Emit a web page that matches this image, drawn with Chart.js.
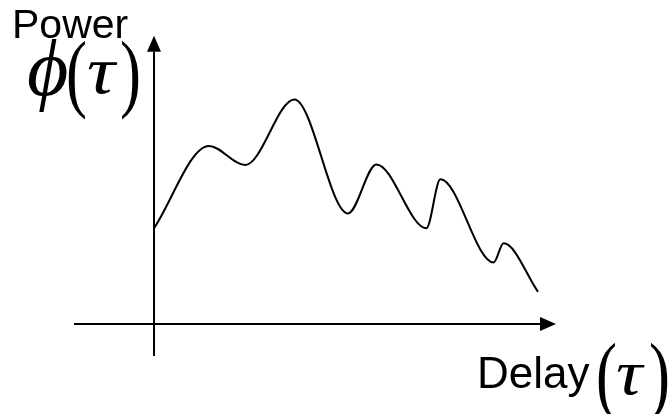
<!DOCTYPE html>
<html>
<head>
<meta charset="utf-8">
<script src="https://cdn.jsdelivr.net/npm/chart.js@4/dist/chart.umd.min.js"></script>
<style>
    body { margin: 0; background: #fff; }
    #wrap { width: 668px; height: 414px; }
</style>
</head>
<body>
<div id="wrap"><canvas id="pdpChart" width="668" height="414"></canvas></div>
<script>
// 지연(delay) 축 값 (시작, 봉우리/골, 끝)
const delayValues = [0, 1.37, 2.28, 3.51, 4.85, 5.56, 6.81, 7.16, 8.49, 8.74, 9.6];
// 전력(power) 값
const powerValues = [3.42, 6.36, 5.68, 8.02, 3.95, 5.70, 3.42, 5.17, 2.20, 2.88, 1.15];
// 축 화살표 범위 [시작, 끝]
const delayAxisRange = [-2, 10.05];
const powerAxisRange = [-1.14, 10.29];

// 축 + 화살표 그리기
const axisArrows = {
    id: 'axisArrows',
    beforeDatasetsDraw(chart) {
        const ctx = chart.ctx;
        const x = chart.scales.x;
        const y = chart.scales.y;
        const x0 = x.getPixelForValue(0);
        const y0 = y.getPixelForValue(0);
        const xs = x.getPixelForValue(delayAxisRange[0]);
        const xe = x.getPixelForValue(delayAxisRange[1]);
        const ys = y.getPixelForValue(powerAxisRange[0]);
        const ye = y.getPixelForValue(powerAxisRange[1]);
        const len = 16, half = 7;

        ctx.save();
        ctx.strokeStyle = '#000';
        ctx.fillStyle = '#000';
        ctx.lineWidth = 2;

        // 가로축
        ctx.beginPath();
        ctx.moveTo(xs, y0);
        ctx.lineTo(xe - len, y0);
        ctx.stroke();
        ctx.beginPath();
        ctx.moveTo(xe, y0);
        ctx.lineTo(xe - len, y0 - half);
        ctx.lineTo(xe - len, y0 + half);
        ctx.closePath();
        ctx.fill();

        // 세로축
        ctx.beginPath();
        ctx.moveTo(x0, ys);
        ctx.lineTo(x0, ye + len);
        ctx.stroke();
        ctx.beginPath();
        ctx.moveTo(x0, ye);
        ctx.lineTo(x0 - half, ye + len);
        ctx.lineTo(x0 + half, ye + len);
        ctx.closePath();
        ctx.fill();
        ctx.restore();
    }
};

// 글자 하나 그리기 (가로/세로 배율 포함)
function glyph(ctx, text, font, x, base, sx, sy) {
    ctx.save();
    ctx.font = font;
    ctx.translate(x, base);
    ctx.scale(sx, sy);
    ctx.fillText(text, 0, 0);
    ctx.restore();
}

// 라벨 (Power, φ(τ), Delay (τ))
const axisLabels = {
    id: 'axisLabels',
    afterDraw(chart) {
        const ctx = chart.ctx;
        ctx.save();
        ctx.fillStyle = '#000';
        ctx.textBaseline = 'alphabetic';
        ctx.textAlign = 'left';

        const sans = '"Liberation Sans", Arial, sans-serif';
        glyph(ctx, 'Power', '41px ' + sans, 12, 38, 1, 1);
        glyph(ctx, 'Delay', '44px ' + sans, 477, 388, 1, 1);

        const serif = '"Liberation Serif", "DejaVu Serif", serif';
        // φ(τ)
        glyph(ctx, '\u03D5', 'italic 80px ' + serif, 27, 95, 1, 1);
        glyph(ctx, '(', '70px ' + serif, 66, 101, 0.9, 1.25);
        glyph(ctx, '\u03C4', 'italic 68px ' + serif, 87, 93, 1.15, 1);
        glyph(ctx, ')', '70px ' + serif, 120, 101, 0.9, 1.25);

        // (τ)
        glyph(ctx, '(', '70px ' + serif, 596, 403, 0.9, 1.25);
        glyph(ctx, '\u03C4', 'italic 64px ' + serif, 616, 394, 1.15, 1);
        glyph(ctx, ')', '70px ' + serif, 649, 403, 0.9, 1.25);
        ctx.restore();
    }
};

const points = delayValues.map((d, i) => ({ x: d, y: powerValues[i] }));

new Chart(document.getElementById('pdpChart'), {
    type: 'line',
    data: {
        datasets: [{
            data: points,
            borderColor: '#000',
            borderWidth: 2,
            pointRadius: 0,
            fill: false,
            cubicInterpolationMode: 'monotone'
        }]
    },
    options: {
        responsive: false,
        animation: false,
        layout: { padding: 0 },
        plugins: {
            legend: { display: false },
            tooltip: { enabled: false }
        },
        scales: {
            x: { type: 'linear', display: false, min: -3.85, max: 12.85 },
            y: { type: 'linear', display: false, min: -3.214, max: 11.571 }
        }
    },
    plugins: [axisArrows, axisLabels]
});
</script>
</body>
</html>
